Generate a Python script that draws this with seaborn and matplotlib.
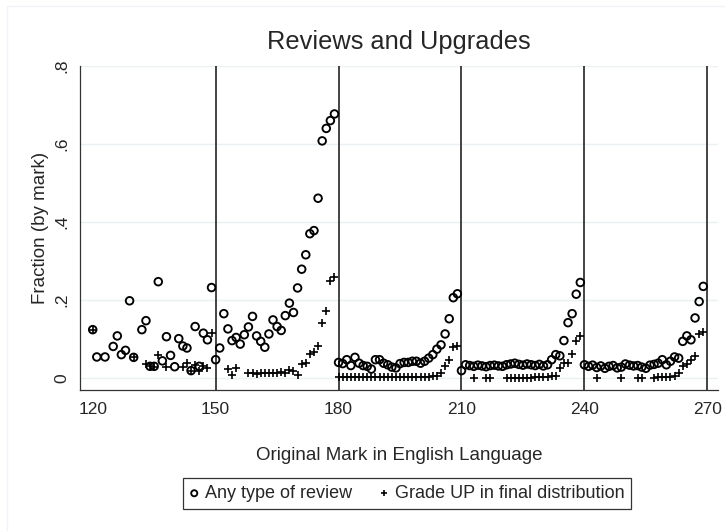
import matplotlib
matplotlib.use("Agg")
import matplotlib.pyplot as plt
from matplotlib.patches import Rectangle
import seaborn as sns
import pandas as pd

# share of students with any type of review, by original mark
review_marks = [120, 121, 123, 125, 126, 127, 128, 129, 130, 132, 133, 134, 135, 136, 137, 138,
                139, 140, 141, 142, 143, 144, 145, 146, 147, 148, 149,
                150, 151, 152, 153, 154, 155, 156, 157, 158, 159, 160, 161, 162, 163, 164, 165,
                166, 167, 168, 169, 170, 171, 172, 173, 174, 175, 176, 177, 178, 179,
                180, 181, 182, 183, 184, 185, 186, 187, 188, 189, 190, 191, 192, 193, 194, 195,
                196, 197, 198, 199, 200, 201, 202, 203, 204, 205, 206, 207, 208, 209,
                210, 211, 212, 213, 214, 215, 216, 217, 218, 219, 220, 221, 222, 223, 224, 225,
                226, 227, 228, 229, 230, 231, 232, 233, 234, 235, 236, 237, 238, 239,
                240, 241, 242, 243, 244, 245, 246, 247, 248, 249, 250, 251, 252, 253, 254, 255,
                256, 257, 258, 259, 260, 261, 262, 263, 264, 265, 266, 267, 268, 269]
review_frac = [0.124, 0.054, 0.054, 0.081, 0.108, 0.060, 0.071, 0.198, 0.053, 0.124, 0.147, 0.030,
               0.030, 0.247, 0.044, 0.106, 0.058, 0.029, 0.101, 0.082, 0.077, 0.019, 0.132, 0.030,
               0.115, 0.098, 0.232,
               0.047, 0.077, 0.165, 0.126, 0.096, 0.104, 0.087, 0.111, 0.131, 0.158, 0.108, 0.094,
               0.079, 0.113, 0.149, 0.132, 0.122, 0.160, 0.192, 0.168, 0.231, 0.279, 0.316, 0.370,
               0.378, 0.461, 0.608, 0.640, 0.660, 0.677,
               0.040, 0.037, 0.047, 0.032, 0.053, 0.038, 0.032, 0.030, 0.023, 0.047, 0.047, 0.038,
               0.034, 0.028, 0.026, 0.037, 0.040, 0.040, 0.043, 0.043, 0.038, 0.043, 0.051, 0.060,
               0.074, 0.085, 0.113, 0.152, 0.206, 0.216,
               0.019, 0.034, 0.032, 0.030, 0.033, 0.031, 0.029, 0.032, 0.033, 0.031, 0.030, 0.034,
               0.036, 0.038, 0.035, 0.033, 0.036, 0.034, 0.032, 0.035, 0.031, 0.034, 0.047, 0.060,
               0.057, 0.096, 0.142, 0.165, 0.215, 0.245,
               0.034, 0.030, 0.033, 0.027, 0.031, 0.025, 0.030, 0.032, 0.026, 0.028, 0.036, 0.033,
               0.031, 0.032, 0.028, 0.025, 0.033, 0.035, 0.038, 0.047, 0.034, 0.043, 0.054, 0.051,
               0.094, 0.108, 0.098, 0.154, 0.196, 0.235]

# share upgraded in the final distribution
upgrade_marks = [120, 130, 133, 134, 135, 136, 138, 142, 143, 144, 145, 146, 147, 148, 149,
                 153, 154, 155, 158, 159, 160, 161, 162, 163, 164, 165, 166, 167, 168, 169, 170,
                 171, 172, 173, 174, 175, 176, 177, 178, 179,
                 180, 181, 182, 183, 184, 185, 186, 187, 188, 189, 190, 191, 192, 193, 194, 195,
                 196, 197, 198, 199, 200, 201, 202, 203, 204, 205, 206, 207, 208, 209,
                 213, 216, 217, 221, 222, 223, 224, 225, 226, 227, 228, 229, 230, 231, 232, 233,
                 234, 235, 236, 237, 238, 239,
                 243, 249, 253, 254, 257, 258, 259, 260, 261, 262, 263, 264, 265, 266, 267, 268, 269]
upgrade_frac = [0.124, 0.053, 0.036, 0.030, 0.028, 0.060, 0.028, 0.028, 0.038, 0.019, 0.034, 0.017,
                0.031, 0.026, 0.115,
                0.023, 0.008, 0.026, 0.013, 0.013, 0.011, 0.012, 0.012, 0.013, 0.013, 0.014, 0.016,
                0.012, 0.021, 0.018, 0.008, 0.036, 0.038, 0.061, 0.066, 0.083, 0.141, 0.173, 0.249,
                0.259,
                0.002, 0.002, 0.002, 0.002, 0.002, 0.002, 0.002, 0.002, 0.002, 0.002, 0.002, 0.002,
                0.002, 0.002, 0.002, 0.002, 0.002, 0.002, 0.002, 0.002, 0.002, 0.003, 0.003, 0.004,
                0.005, 0.013, 0.030, 0.047, 0.079, 0.081,
                0.001, 0.001, 0.001, 0.001, 0.001, 0.001, 0.001, 0.001, 0.001, 0.001, 0.002, 0.002,
                0.002, 0.003, 0.005, 0.006, 0.026, 0.038, 0.039, 0.061, 0.096, 0.107,
                0.001, 0.001, 0.001, 0.001, 0.001, 0.002, 0.002, 0.002, 0.003, 0.004, 0.014, 0.030,
                0.037, 0.045, 0.057, 0.113, 0.119]

x_ticks = [120, 150, 180, 210, 240, 270]
y_ticks = [0, 0.2, 0.4, 0.6, 0.8]
y_tick_labels = ["0", ".2", ".4", ".6", ".8"]
ref_lines = [150, 180, 210, 240, 270]

rev = pd.DataFrame({"mark": review_marks, "frac": review_frac})
upg = pd.DataFrame({"mark": upgrade_marks, "frac": upgrade_frac})

sns.set_style("white")
plt.rcParams["font.family"] = ["Liberation Sans", "DejaVu Sans"]

fig = plt.figure(figsize=(7.25, 5.31), dpi=100)
ax = fig.add_axes([80 / 725, 1 - 390 / 531, 638 / 725, 324 / 531])

# faint outer frame like the Stata graph region
fig.patches.append(Rectangle((7 / 725, -0.1), 1.2, 1 - 6 / 531 + 0.1, transform=fig.transFigure,
                             fill=False, edgecolor="#f0f3f7", lw=1.0, zorder=0))

for v in ref_lines:
    ax.axvline(v, color="#111111", lw=1.1, zorder=1)

sns.scatterplot(data=rev, x="mark", y="frac", marker="o", s=30, facecolor="none",
                edgecolor="black", linewidth=1.35, label="Any type of review", ax=ax, zorder=3)
sns.scatterplot(data=upg, x="mark", y="frac", marker="+", s=32, color="black",
                linewidth=1.2, label="Grade UP in final distribution", ax=ax, zorder=3)

ax.set_xlim(116.9, 272.6)
ax.set_ylim(-0.0307, 0.8)
ax.set_xticks(x_ticks)
ax.set_yticks(y_ticks)
ax.set_yticklabels(y_tick_labels, rotation=90, va="center")
ax.yaxis.grid(True, color="#eaf0f4", lw=1.0)
ax.set_axisbelow(True)

for side in ["top", "right"]:
    ax.spines[side].set_visible(False)
for side in ["left", "bottom"]:
    ax.spines[side].set_color("#333333")
    ax.spines[side].set_linewidth(0.9)

ax.tick_params(axis="x", direction="out", length=5, width=0.9, color="#333333",
               labelsize=12.5, pad=4)
ax.tick_params(axis="y", direction="out", length=4, width=0.9, color="#333333",
               labelsize=12.5, pad=4)

ax.set_xlabel("Original Mark in English Language", fontsize=13.5)
ax.set_ylabel("Fraction (by mark)", fontsize=13.5)
ax.xaxis.set_label_coords(0.5, -0.175)
ax.yaxis.set_label_coords(-0.048, 0.5)
ax.set_title("Reviews and Upgrades", fontsize=18.3, pad=12)

leg = ax.legend(loc="center", bbox_to_anchor=(407 / 725, 1 - 493.5 / 531),
                bbox_transform=fig.transFigure, ncol=2, fontsize=13, frameon=True,
                fancybox=False, edgecolor="black", handlelength=0.5, handletextpad=0.35,
                columnspacing=1.5, borderpad=0.4, markerscale=0.8)
leg.get_frame().set_linewidth(0.9)

fig.savefig("out.png", dpi=100)
